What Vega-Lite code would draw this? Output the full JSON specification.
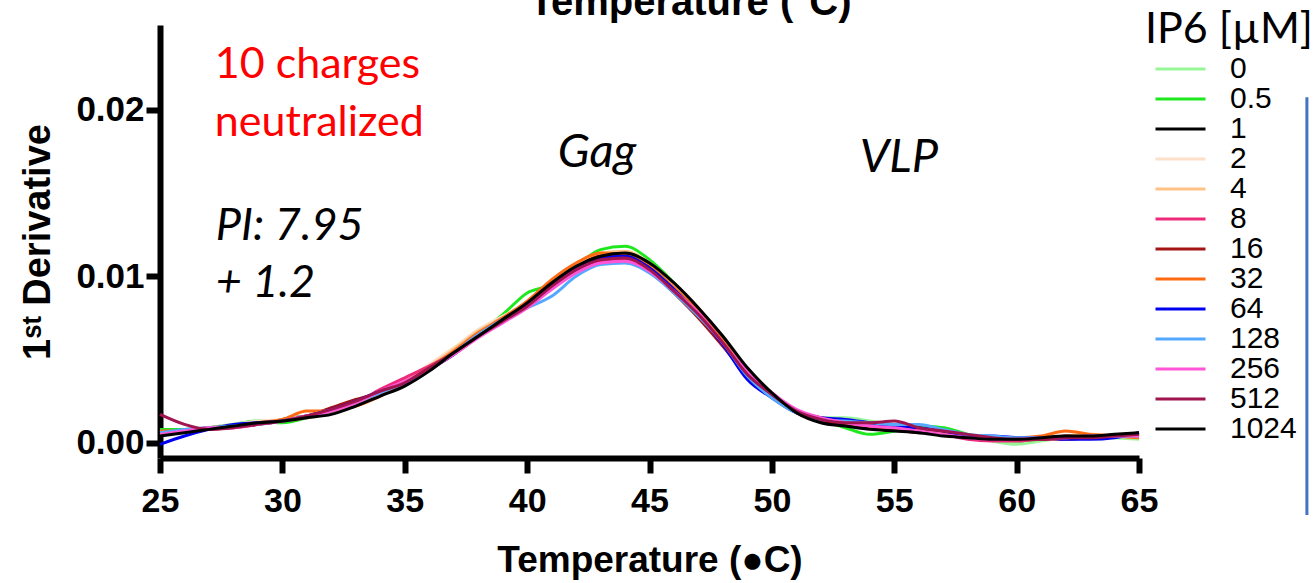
{
"$schema": "https://vega.github.io/schema/vega-lite/v6.json",
"width": 979,
"height": 433,
"autosize": {"type": "none"},
"padding": {"left": 160, "top": 25, "right": 176, "bottom": 125},
"background": "white",
"config": {"view": {"stroke": null}, "font": "Liberation Sans"},
"title": {"text": "Temperature (°C)", "font": "Liberation Sans", "fontSize": 40, "fontWeight": "bold", "color": "black", "anchor": "middle", "frame": "group", "dx": 41, "offset": -46, "baseline": "alphabetic"},
"datasets": {
"curves": [
{"t":25,"c":"0","v":0.0007},{"t":26,"c":"0","v":0.0008},{"t":27,"c":"0","v":0.0009},{"t":28,"c":"0","v":0.0011},{"t":29,"c":"0","v":0.0012},{"t":30,"c":"0","v":0.0013},{"t":31,"c":"0","v":0.0015},{"t":32,"c":"0","v":0.0019},{"t":33,"c":"0","v":0.0024},{"t":34,"c":"0","v":0.0030},{"t":35,"c":"0","v":0.0036},{"t":36,"c":"0","v":0.0045},{"t":37,"c":"0","v":0.0055},{"t":38,"c":"0","v":0.0066},{"t":39,"c":"0","v":0.0074},{"t":40,"c":"0","v":0.0082},{"t":41,"c":"0","v":0.0093},{"t":42,"c":"0","v":0.0103},{"t":43,"c":"0","v":0.0109},{"t":44,"c":"0","v":0.0111},{"t":45,"c":"0","v":0.0104},{"t":46,"c":"0","v":0.0091},{"t":47,"c":"0","v":0.0076},{"t":48,"c":"0","v":0.0059},{"t":49,"c":"0","v":0.0040},{"t":50,"c":"0","v":0.0027},{"t":51,"c":"0","v":0.0018},{"t":52,"c":"0","v":0.0015},{"t":53,"c":"0","v":0.0015},{"t":54,"c":"0","v":0.0013},{"t":55,"c":"0","v":0.0011},{"t":56,"c":"0","v":0.0010},{"t":57,"c":"0","v":0.0009},{"t":58,"c":"0","v":0.0005},{"t":59,"c":"0","v":0.0001},{"t":60,"c":"0","v":-0.0001},{"t":61,"c":"0","v":0.0001},{"t":62,"c":"0","v":0.0003},{"t":63,"c":"0","v":0.0004},{"t":64,"c":"0","v":0.0003},{"t":65,"c":"0","v":0.0002},
{"t":25,"c":"0.5","v":0.0008},{"t":26,"c":"0.5","v":0.0008},{"t":27,"c":"0.5","v":0.0009},{"t":28,"c":"0.5","v":0.0011},{"t":29,"c":"0.5","v":0.0013},{"t":30,"c":"0.5","v":0.0012},{"t":31,"c":"0.5","v":0.0015},{"t":32,"c":"0.5","v":0.0020},{"t":33,"c":"0.5","v":0.0023},{"t":34,"c":"0.5","v":0.0031},{"t":35,"c":"0.5","v":0.0037},{"t":36,"c":"0.5","v":0.0046},{"t":37,"c":"0.5","v":0.0056},{"t":38,"c":"0.5","v":0.0066},{"t":39,"c":"0.5","v":0.0077},{"t":40,"c":"0.5","v":0.0090},{"t":41,"c":"0.5","v":0.0095},{"t":42,"c":"0.5","v":0.0106},{"t":43,"c":"0.5","v":0.0116},{"t":44,"c":"0.5","v":0.0118},{"t":45,"c":"0.5","v":0.0110},{"t":46,"c":"0.5","v":0.0096},{"t":47,"c":"0.5","v":0.0080},{"t":48,"c":"0.5","v":0.0063},{"t":49,"c":"0.5","v":0.0042},{"t":50,"c":"0.5","v":0.0029},{"t":51,"c":"0.5","v":0.0019},{"t":52,"c":"0.5","v":0.0014},{"t":53,"c":"0.5","v":0.0009},{"t":54,"c":"0.5","v":0.0005},{"t":55,"c":"0.5","v":0.0007},{"t":56,"c":"0.5","v":0.0010},{"t":57,"c":"0.5","v":0.0009},{"t":58,"c":"0.5","v":0.0005},{"t":59,"c":"0.5","v":0.0002},{"t":60,"c":"0.5","v":0.0001},{"t":61,"c":"0.5","v":0.0002},{"t":62,"c":"0.5","v":0.0002},{"t":63,"c":"0.5","v":0.0003},{"t":64,"c":"0.5","v":0.0004},{"t":65,"c":"0.5","v":0.0004},
{"t":25,"c":"1","v":0.0005},{"t":26,"c":"1","v":0.0007},{"t":27,"c":"1","v":0.0009},{"t":28,"c":"1","v":0.0010},{"t":29,"c":"1","v":0.0011},{"t":30,"c":"1","v":0.0014},{"t":31,"c":"1","v":0.0016},{"t":32,"c":"1","v":0.0018},{"t":33,"c":"1","v":0.0025},{"t":34,"c":"1","v":0.0030},{"t":35,"c":"1","v":0.0035},{"t":36,"c":"1","v":0.0045},{"t":37,"c":"1","v":0.0055},{"t":38,"c":"1","v":0.0066},{"t":39,"c":"1","v":0.0075},{"t":40,"c":"1","v":0.0083},{"t":41,"c":"1","v":0.0095},{"t":42,"c":"1","v":0.0106},{"t":43,"c":"1","v":0.0112},{"t":44,"c":"1","v":0.0113},{"t":45,"c":"1","v":0.0106},{"t":46,"c":"1","v":0.0094},{"t":47,"c":"1","v":0.0080},{"t":48,"c":"1","v":0.0062},{"t":49,"c":"1","v":0.0042},{"t":50,"c":"1","v":0.0029},{"t":51,"c":"1","v":0.0019},{"t":52,"c":"1","v":0.0014},{"t":53,"c":"1","v":0.0011},{"t":54,"c":"1","v":0.0009},{"t":55,"c":"1","v":0.0008},{"t":56,"c":"1","v":0.0007},{"t":57,"c":"1","v":0.0005},{"t":58,"c":"1","v":0.0004},{"t":59,"c":"1","v":0.0003},{"t":60,"c":"1","v":0.0002},{"t":61,"c":"1","v":0.0002},{"t":62,"c":"1","v":0.0003},{"t":63,"c":"1","v":0.0003},{"t":64,"c":"1","v":0.0004},{"t":65,"c":"1","v":0.0005},
{"t":25,"c":"2","v":0.0006},{"t":26,"c":"2","v":0.0007},{"t":27,"c":"2","v":0.0009},{"t":28,"c":"2","v":0.0011},{"t":29,"c":"2","v":0.0013},{"t":30,"c":"2","v":0.0014},{"t":31,"c":"2","v":0.0016},{"t":32,"c":"2","v":0.0019},{"t":33,"c":"2","v":0.0024},{"t":34,"c":"2","v":0.0030},{"t":35,"c":"2","v":0.0038},{"t":36,"c":"2","v":0.0047},{"t":37,"c":"2","v":0.0057},{"t":38,"c":"2","v":0.0068},{"t":39,"c":"2","v":0.0076},{"t":40,"c":"2","v":0.0084},{"t":41,"c":"2","v":0.0094},{"t":42,"c":"2","v":0.0104},{"t":43,"c":"2","v":0.0110},{"t":44,"c":"2","v":0.0112},{"t":45,"c":"2","v":0.0105},{"t":46,"c":"2","v":0.0093},{"t":47,"c":"2","v":0.0079},{"t":48,"c":"2","v":0.0062},{"t":49,"c":"2","v":0.0041},{"t":50,"c":"2","v":0.0028},{"t":51,"c":"2","v":0.0018},{"t":52,"c":"2","v":0.0013},{"t":53,"c":"2","v":0.0012},{"t":54,"c":"2","v":0.0011},{"t":55,"c":"2","v":0.0010},{"t":56,"c":"2","v":0.0008},{"t":57,"c":"2","v":0.0006},{"t":58,"c":"2","v":0.0004},{"t":59,"c":"2","v":0.0003},{"t":60,"c":"2","v":0.0002},{"t":61,"c":"2","v":0.0003},{"t":62,"c":"2","v":0.0004},{"t":63,"c":"2","v":0.0005},{"t":64,"c":"2","v":0.0004},{"t":65,"c":"2","v":0.0004},
{"t":25,"c":"4","v":0.0006},{"t":26,"c":"4","v":0.0007},{"t":27,"c":"4","v":0.0009},{"t":28,"c":"4","v":0.0010},{"t":29,"c":"4","v":0.0011},{"t":30,"c":"4","v":0.0013},{"t":31,"c":"4","v":0.0015},{"t":32,"c":"4","v":0.0018},{"t":33,"c":"4","v":0.0023},{"t":34,"c":"4","v":0.0030},{"t":35,"c":"4","v":0.0037},{"t":36,"c":"4","v":0.0046},{"t":37,"c":"4","v":0.0056},{"t":38,"c":"4","v":0.0067},{"t":39,"c":"4","v":0.0075},{"t":40,"c":"4","v":0.0084},{"t":41,"c":"4","v":0.0096},{"t":42,"c":"4","v":0.0107},{"t":43,"c":"4","v":0.0114},{"t":44,"c":"4","v":0.0115},{"t":45,"c":"4","v":0.0108},{"t":46,"c":"4","v":0.0095},{"t":47,"c":"4","v":0.0081},{"t":48,"c":"4","v":0.0063},{"t":49,"c":"4","v":0.0043},{"t":50,"c":"4","v":0.0030},{"t":51,"c":"4","v":0.0019},{"t":52,"c":"4","v":0.0014},{"t":53,"c":"4","v":0.0012},{"t":54,"c":"4","v":0.0011},{"t":55,"c":"4","v":0.0010},{"t":56,"c":"4","v":0.0008},{"t":57,"c":"4","v":0.0006},{"t":58,"c":"4","v":0.0005},{"t":59,"c":"4","v":0.0003},{"t":60,"c":"4","v":0.0002},{"t":61,"c":"4","v":0.0002},{"t":62,"c":"4","v":0.0004},{"t":63,"c":"4","v":0.0005},{"t":64,"c":"4","v":0.0004},{"t":65,"c":"4","v":0.0003},
{"t":25,"c":"8","v":0.0005},{"t":26,"c":"8","v":0.0007},{"t":27,"c":"8","v":0.0008},{"t":28,"c":"8","v":0.0009},{"t":29,"c":"8","v":0.0011},{"t":30,"c":"8","v":0.0013},{"t":31,"c":"8","v":0.0016},{"t":32,"c":"8","v":0.0019},{"t":33,"c":"8","v":0.0024},{"t":34,"c":"8","v":0.0032},{"t":35,"c":"8","v":0.0039},{"t":36,"c":"8","v":0.0046},{"t":37,"c":"8","v":0.0054},{"t":38,"c":"8","v":0.0064},{"t":39,"c":"8","v":0.0073},{"t":40,"c":"8","v":0.0083},{"t":41,"c":"8","v":0.0094},{"t":42,"c":"8","v":0.0103},{"t":43,"c":"8","v":0.0109},{"t":44,"c":"8","v":0.0110},{"t":45,"c":"8","v":0.0104},{"t":46,"c":"8","v":0.0091},{"t":47,"c":"8","v":0.0077},{"t":48,"c":"8","v":0.0059},{"t":49,"c":"8","v":0.0040},{"t":50,"c":"8","v":0.0028},{"t":51,"c":"8","v":0.0019},{"t":52,"c":"8","v":0.0015},{"t":53,"c":"8","v":0.0012},{"t":54,"c":"8","v":0.0010},{"t":55,"c":"8","v":0.0009},{"t":56,"c":"8","v":0.0007},{"t":57,"c":"8","v":0.0005},{"t":58,"c":"8","v":0.0002},{"t":59,"c":"8","v":0.0001},{"t":60,"c":"8","v":0.0001},{"t":61,"c":"8","v":0.0002},{"t":62,"c":"8","v":0.0002},{"t":63,"c":"8","v":0.0003},{"t":64,"c":"8","v":0.0004},{"t":65,"c":"8","v":0.0005},
{"t":25,"c":"16","v":0.0006},{"t":26,"c":"16","v":0.0007},{"t":27,"c":"16","v":0.0009},{"t":28,"c":"16","v":0.0010},{"t":29,"c":"16","v":0.0012},{"t":30,"c":"16","v":0.0013},{"t":31,"c":"16","v":0.0016},{"t":32,"c":"16","v":0.0021},{"t":33,"c":"16","v":0.0026},{"t":34,"c":"16","v":0.0030},{"t":35,"c":"16","v":0.0035},{"t":36,"c":"16","v":0.0044},{"t":37,"c":"16","v":0.0053},{"t":38,"c":"16","v":0.0064},{"t":39,"c":"16","v":0.0073},{"t":40,"c":"16","v":0.0083},{"t":41,"c":"16","v":0.0095},{"t":42,"c":"16","v":0.0105},{"t":43,"c":"16","v":0.0112},{"t":44,"c":"16","v":0.0112},{"t":45,"c":"16","v":0.0104},{"t":46,"c":"16","v":0.0090},{"t":47,"c":"16","v":0.0075},{"t":48,"c":"16","v":0.0058},{"t":49,"c":"16","v":0.0040},{"t":50,"c":"16","v":0.0028},{"t":51,"c":"16","v":0.0018},{"t":52,"c":"16","v":0.0013},{"t":53,"c":"16","v":0.0011},{"t":54,"c":"16","v":0.0010},{"t":55,"c":"16","v":0.0008},{"t":56,"c":"16","v":0.0006},{"t":57,"c":"16","v":0.0006},{"t":58,"c":"16","v":0.0004},{"t":59,"c":"16","v":0.0003},{"t":60,"c":"16","v":0.0002},{"t":61,"c":"16","v":0.0002},{"t":62,"c":"16","v":0.0004},{"t":63,"c":"16","v":0.0003},{"t":64,"c":"16","v":0.0004},{"t":65,"c":"16","v":0.0006},
{"t":25,"c":"32","v":0.0007},{"t":26,"c":"32","v":0.0007},{"t":27,"c":"32","v":0.0009},{"t":28,"c":"32","v":0.0010},{"t":29,"c":"32","v":0.0012},{"t":30,"c":"32","v":0.0014},{"t":31,"c":"32","v":0.0019},{"t":32,"c":"32","v":0.0019},{"t":33,"c":"32","v":0.0022},{"t":34,"c":"32","v":0.0028},{"t":35,"c":"32","v":0.0036},{"t":36,"c":"32","v":0.0045},{"t":37,"c":"32","v":0.0055},{"t":38,"c":"32","v":0.0066},{"t":39,"c":"32","v":0.0075},{"t":40,"c":"32","v":0.0085},{"t":41,"c":"32","v":0.0098},{"t":42,"c":"32","v":0.0108},{"t":43,"c":"32","v":0.0114},{"t":44,"c":"32","v":0.0113},{"t":45,"c":"32","v":0.0106},{"t":46,"c":"32","v":0.0093},{"t":47,"c":"32","v":0.0079},{"t":48,"c":"32","v":0.0062},{"t":49,"c":"32","v":0.0042},{"t":50,"c":"32","v":0.0029},{"t":51,"c":"32","v":0.0019},{"t":52,"c":"32","v":0.0015},{"t":53,"c":"32","v":0.0012},{"t":54,"c":"32","v":0.0010},{"t":55,"c":"32","v":0.0009},{"t":56,"c":"32","v":0.0007},{"t":57,"c":"32","v":0.0006},{"t":58,"c":"32","v":0.0004},{"t":59,"c":"32","v":0.0003},{"t":60,"c":"32","v":0.0003},{"t":61,"c":"32","v":0.0004},{"t":62,"c":"32","v":0.0007},{"t":63,"c":"32","v":0.0005},{"t":64,"c":"32","v":0.0004},{"t":65,"c":"32","v":0.0003},
{"t":25,"c":"64","v":-0.0001},{"t":26,"c":"64","v":0.0004},{"t":27,"c":"64","v":0.0008},{"t":28,"c":"64","v":0.0011},{"t":29,"c":"64","v":0.0012},{"t":30,"c":"64","v":0.0013},{"t":31,"c":"64","v":0.0016},{"t":32,"c":"64","v":0.0020},{"t":33,"c":"64","v":0.0025},{"t":34,"c":"64","v":0.0031},{"t":35,"c":"64","v":0.0036},{"t":36,"c":"64","v":0.0044},{"t":37,"c":"64","v":0.0053},{"t":38,"c":"64","v":0.0064},{"t":39,"c":"64","v":0.0074},{"t":40,"c":"64","v":0.0083},{"t":41,"c":"64","v":0.0095},{"t":42,"c":"64","v":0.0105},{"t":43,"c":"64","v":0.0111},{"t":44,"c":"64","v":0.0112},{"t":45,"c":"64","v":0.0105},{"t":46,"c":"64","v":0.0092},{"t":47,"c":"64","v":0.0077},{"t":48,"c":"64","v":0.0059},{"t":49,"c":"64","v":0.0038},{"t":50,"c":"64","v":0.0027},{"t":51,"c":"64","v":0.0018},{"t":52,"c":"64","v":0.0015},{"t":53,"c":"64","v":0.0014},{"t":54,"c":"64","v":0.0012},{"t":55,"c":"64","v":0.0010},{"t":56,"c":"64","v":0.0009},{"t":57,"c":"64","v":0.0007},{"t":58,"c":"64","v":0.0004},{"t":59,"c":"64","v":0.0004},{"t":60,"c":"64","v":0.0003},{"t":61,"c":"64","v":0.0003},{"t":62,"c":"64","v":0.0002},{"t":63,"c":"64","v":0.0002},{"t":64,"c":"64","v":0.0003},{"t":65,"c":"64","v":0.0006},
{"t":25,"c":"128","v":0.0006},{"t":26,"c":"128","v":0.0008},{"t":27,"c":"128","v":0.0009},{"t":28,"c":"128","v":0.0010},{"t":29,"c":"128","v":0.0011},{"t":30,"c":"128","v":0.0013},{"t":31,"c":"128","v":0.0016},{"t":32,"c":"128","v":0.0019},{"t":33,"c":"128","v":0.0024},{"t":34,"c":"128","v":0.0030},{"t":35,"c":"128","v":0.0036},{"t":36,"c":"128","v":0.0044},{"t":37,"c":"128","v":0.0054},{"t":38,"c":"128","v":0.0065},{"t":39,"c":"128","v":0.0074},{"t":40,"c":"128","v":0.0081},{"t":41,"c":"128","v":0.0088},{"t":42,"c":"128","v":0.0100},{"t":43,"c":"128","v":0.0107},{"t":44,"c":"128","v":0.0108},{"t":45,"c":"128","v":0.0102},{"t":46,"c":"128","v":0.0090},{"t":47,"c":"128","v":0.0076},{"t":48,"c":"128","v":0.0060},{"t":49,"c":"128","v":0.0040},{"t":50,"c":"128","v":0.0027},{"t":51,"c":"128","v":0.0018},{"t":52,"c":"128","v":0.0014},{"t":53,"c":"128","v":0.0013},{"t":54,"c":"128","v":0.0012},{"t":55,"c":"128","v":0.0011},{"t":56,"c":"128","v":0.0011},{"t":57,"c":"128","v":0.0008},{"t":58,"c":"128","v":0.0005},{"t":59,"c":"128","v":0.0004},{"t":60,"c":"128","v":0.0003},{"t":61,"c":"128","v":0.0003},{"t":62,"c":"128","v":0.0003},{"t":63,"c":"128","v":0.0004},{"t":64,"c":"128","v":0.0004},{"t":65,"c":"128","v":0.0004},
{"t":25,"c":"256","v":0.0005},{"t":26,"c":"256","v":0.0007},{"t":27,"c":"256","v":0.0009},{"t":28,"c":"256","v":0.0009},{"t":29,"c":"256","v":0.0011},{"t":30,"c":"256","v":0.0013},{"t":31,"c":"256","v":0.0016},{"t":32,"c":"256","v":0.0019},{"t":33,"c":"256","v":0.0024},{"t":34,"c":"256","v":0.0031},{"t":35,"c":"256","v":0.0037},{"t":36,"c":"256","v":0.0044},{"t":37,"c":"256","v":0.0053},{"t":38,"c":"256","v":0.0063},{"t":39,"c":"256","v":0.0072},{"t":40,"c":"256","v":0.0081},{"t":41,"c":"256","v":0.0092},{"t":42,"c":"256","v":0.0102},{"t":43,"c":"256","v":0.0108},{"t":44,"c":"256","v":0.0109},{"t":45,"c":"256","v":0.0103},{"t":46,"c":"256","v":0.0091},{"t":47,"c":"256","v":0.0078},{"t":48,"c":"256","v":0.0060},{"t":49,"c":"256","v":0.0043},{"t":50,"c":"256","v":0.0030},{"t":51,"c":"256","v":0.0020},{"t":52,"c":"256","v":0.0015},{"t":53,"c":"256","v":0.0012},{"t":54,"c":"256","v":0.0010},{"t":55,"c":"256","v":0.0009},{"t":56,"c":"256","v":0.0007},{"t":57,"c":"256","v":0.0005},{"t":58,"c":"256","v":0.0003},{"t":59,"c":"256","v":0.0002},{"t":60,"c":"256","v":0.0002},{"t":61,"c":"256","v":0.0003},{"t":62,"c":"256","v":0.0003},{"t":63,"c":"256","v":0.0004},{"t":64,"c":"256","v":0.0004},{"t":65,"c":"256","v":0.0004},
{"t":25,"c":"512","v":0.0017},{"t":26,"c":"512","v":0.0011},{"t":27,"c":"512","v":0.0008},{"t":28,"c":"512","v":0.0009},{"t":29,"c":"512","v":0.0011},{"t":30,"c":"512","v":0.0013},{"t":31,"c":"512","v":0.0016},{"t":32,"c":"512","v":0.0020},{"t":33,"c":"512","v":0.0025},{"t":34,"c":"512","v":0.0031},{"t":35,"c":"512","v":0.0036},{"t":36,"c":"512","v":0.0045},{"t":37,"c":"512","v":0.0054},{"t":38,"c":"512","v":0.0064},{"t":39,"c":"512","v":0.0073},{"t":40,"c":"512","v":0.0082},{"t":41,"c":"512","v":0.0094},{"t":42,"c":"512","v":0.0104},{"t":43,"c":"512","v":0.0110},{"t":44,"c":"512","v":0.0111},{"t":45,"c":"512","v":0.0104},{"t":46,"c":"512","v":0.0091},{"t":47,"c":"512","v":0.0077},{"t":48,"c":"512","v":0.0060},{"t":49,"c":"512","v":0.0041},{"t":50,"c":"512","v":0.0029},{"t":51,"c":"512","v":0.0019},{"t":52,"c":"512","v":0.0014},{"t":53,"c":"512","v":0.0012},{"t":54,"c":"512","v":0.0012},{"t":55,"c":"512","v":0.0013},{"t":56,"c":"512","v":0.0009},{"t":57,"c":"512","v":0.0007},{"t":58,"c":"512","v":0.0005},{"t":59,"c":"512","v":0.0003},{"t":60,"c":"512","v":0.0002},{"t":61,"c":"512","v":0.0002},{"t":62,"c":"512","v":0.0003},{"t":63,"c":"512","v":0.0003},{"t":64,"c":"512","v":0.0004},{"t":65,"c":"512","v":0.0005},
{"t":25,"c":"1024","v":0.0004},{"t":26,"c":"1024","v":0.0006},{"t":27,"c":"1024","v":0.0008},{"t":28,"c":"1024","v":0.0010},{"t":29,"c":"1024","v":0.0012},{"t":30,"c":"1024","v":0.0013},{"t":31,"c":"1024","v":0.0015},{"t":32,"c":"1024","v":0.0017},{"t":33,"c":"1024","v":0.0022},{"t":34,"c":"1024","v":0.0028},{"t":35,"c":"1024","v":0.0034},{"t":36,"c":"1024","v":0.0043},{"t":37,"c":"1024","v":0.0054},{"t":38,"c":"1024","v":0.0064},{"t":39,"c":"1024","v":0.0074},{"t":40,"c":"1024","v":0.0084},{"t":41,"c":"1024","v":0.0096},{"t":42,"c":"1024","v":0.0106},{"t":43,"c":"1024","v":0.0112},{"t":44,"c":"1024","v":0.0114},{"t":45,"c":"1024","v":0.0108},{"t":46,"c":"1024","v":0.0096},{"t":47,"c":"1024","v":0.0081},{"t":48,"c":"1024","v":0.0064},{"t":49,"c":"1024","v":0.0045},{"t":50,"c":"1024","v":0.0030},{"t":51,"c":"1024","v":0.0018},{"t":52,"c":"1024","v":0.0012},{"t":53,"c":"1024","v":0.0010},{"t":54,"c":"1024","v":0.0008},{"t":55,"c":"1024","v":0.0007},{"t":56,"c":"1024","v":0.0006},{"t":57,"c":"1024","v":0.0004},{"t":58,"c":"1024","v":0.0003},{"t":59,"c":"1024","v":0.0002},{"t":60,"c":"1024","v":0.0002},{"t":61,"c":"1024","v":0.0003},{"t":62,"c":"1024","v":0.0004},{"t":63,"c":"1024","v":0.0004},{"t":64,"c":"1024","v":0.0005},{"t":65,"c":"1024","v":0.0006}
]
},
"layer": [
{
"data": {"name": "curves"},
"mark": {"type": "line", "strokeWidth": 3, "interpolate": "monotone"},
"encoding": {
"x": {"field": "t", "type": "quantitative", "scale": {"domain": [25, 65], "nice": false, "zero": false},
"axis": {"values": [25,30,35,40,45,50,55,60,65], "grid": false, "labelFlush": false, "domainWidth": 6, "domainColor": "black", "tickWidth": 6, "tickSize": 15, "tickColor": "black", "labelFont": "Liberation Sans", "labelFontSize": 34, "labelFontWeight": "bold", "labelColor": "black", "labelPadding": 11, "title": "Temperature (●C)", "titleFont": "Liberation Sans", "titleFontSize": 37, "titleFontWeight": "bold", "titleColor": "black", "titlePadding": 24}},
"y": {"field": "v", "type": "quantitative", "scale": {"domain": [-0.00092, 0.0251], "nice": false, "zero": false},
"axis": {"values": [0, 0.01, 0.02], "format": ".2f", "grid": false, "domainWidth": 6, "domainColor": "black", "tickWidth": 6, "tickSize": 14, "tickColor": "black", "labelFont": "Liberation Sans", "labelFontSize": 35, "labelFontWeight": "bold", "labelColor": "black", "labelPadding": 2, "title": "1ˢᵗ Derivative", "titleFont": "Liberation Sans", "titleFontSize": 38, "titleFontWeight": "bold", "titleColor": "black", "titlePadding": 18}},
"color": {"field": "c", "type": "nominal",
"scale": {"domain": ["0","0.5","1","2","4","8","16","32","64","128","256","512","1024"], "range": ["#98F598","#1EE81E","#000000","#FCE0C8","#FFC285","#EE2A7B","#A31515","#FF6A13","#0000F0","#55A8FF","#FF55D8","#A0144F","#000000"]},
"legend": {"title": "IP6 [µM]", "orient": "none", "legendX": 985, "legendY": -16, "titleFont": "Lato", "titleFontSize": 43, "titleFontWeight": "normal", "titleColor": "black", "titlePadding": 2, "labelFont": "Liberation Sans", "labelFontSize": 30, "labelColor": "black", "symbolType": "stroke", "symbolSize": 2500, "symbolStrokeWidth": 3, "clipHeight": 30, "rowPadding": 0, "labelOffset": 23, "symbolOffset": 9, "padding": 0}}
}
},
{
"data": {"values": [{"t": 27.24, "v": 0.0219, "label": "10 charges"}, {"t": 27.24, "v": 0.01842, "label": "neutralized"}]},
"mark": {"type": "text", "align": "left", "baseline": "alphabetic", "font": "Lato", "fontSize": 43, "color": "#FF0000"},
"encoding": {"x": {"field": "t", "type": "quantitative"}, "y": {"field": "v", "type": "quantitative"}, "text": {"field": "label"}}
},
{
"data": {"values": [{"t": 27.28, "v": 0.01217, "label": "PI: 7.95"}, {"t": 27.28, "v": 0.00875, "label": "+ 1.2"}]},
"mark": {"type": "text", "align": "left", "baseline": "alphabetic", "font": "Lato", "fontStyle": "italic", "fontSize": 45, "color": "black"},
"encoding": {"x": {"field": "t", "type": "quantitative"}, "y": {"field": "v", "type": "quantitative"}, "text": {"field": "label"}}
},
{
"data": {"values": [{"t": 41.25, "v": 0.01656, "label": "Gag"}, {"t": 53.59, "v": 0.01626, "label": "VLP"}]},
"mark": {"type": "text", "align": "left", "baseline": "alphabetic", "font": "Lato", "fontStyle": "italic", "fontSize": 47, "color": "black"},
"encoding": {"x": {"field": "t", "type": "quantitative"}, "y": {"field": "v", "type": "quantitative"}, "text": {"field": "label"}}
},
{
"data": {"values": [{"t": 71.86, "v1": 0.02076, "v2": -0.00434}]},
"mark": {"type": "rule", "color": "#4472C4", "strokeWidth": 3, "clip": false},
"encoding": {"x": {"field": "t", "type": "quantitative"}, "y": {"field": "v1", "type": "quantitative"}, "y2": {"field": "v2"}}
}
]
}
